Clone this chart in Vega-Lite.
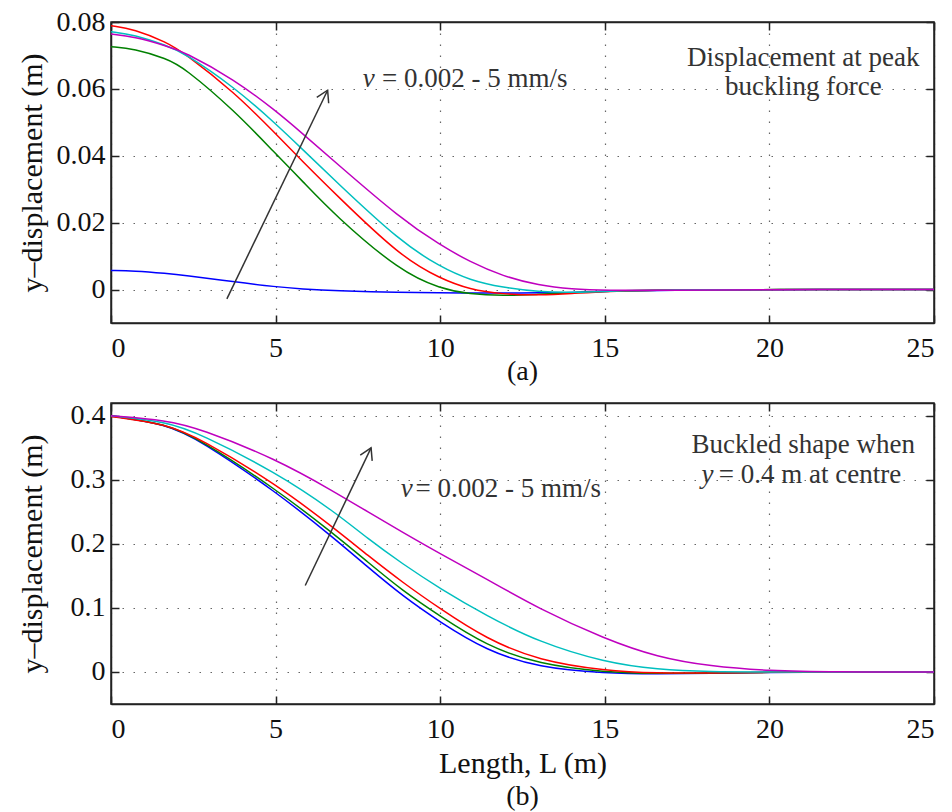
{
  "$schema": "https://vega.github.io/schema/vega-lite/v6.json",
  "background": "white",
  "padding": {"left": 16, "top": 7, "right": 5, "bottom": 0},
  "spacing": 80,
  "bounds": "flush",
  "config": {
    "font": "Liberation Serif",
    "view": {"stroke": "#222", "strokeWidth": 1.5},
    "text": {"font": "Liberation Serif"},
    "axis": {
      "labelFont": "Liberation Serif", "labelFontSize": 28, "labelColor": "#111",
      "titleFont": "Liberation Serif", "titleFontSize": 30, "titleFontWeight": "normal", "titleColor": "#111",
      "domainColor": "#222", "domainWidth": 1.5, "tickColor": "#222", "tickWidth": 1.5, "tickSize": -8,
      "gridColor": "#666", "gridDash": [1.5, 9.5], "gridWidth": 1.2
    },
    "axisX": {"labelPadding": 19},
    "axisY": {"labelPadding": 14}
  },
  "datasets": {
    "top": [
      {"s": "1", "x": 0, "y": 0.0057}, {"s": "1", "x": 0.7, "y": 0.0056}, {"s": "1", "x": 1.7, "y": 0.0048}, {"s": "1", "x": 2.2, "y": 0.0043}, {"s": "1", "x": 3.75, "y": 0.0023}, {"s": "1", "x": 5, "y": 0.0008}, {"s": "1", "x": 5.8, "y": 0.0002}, {"s": "1", "x": 6.8, "y": -0.0004}, {"s": "1", "x": 8.8, "y": -0.0009}, {"s": "1", "x": 10, "y": -0.001}, {"s": "1", "x": 10.9, "y": -0.001}, {"s": "1", "x": 11.9, "y": -0.001}, {"s": "1", "x": 13, "y": -0.001}, {"s": "1", "x": 14, "y": -0.0009}, {"s": "1", "x": 15, "y": -0.0005}, {"s": "1", "x": 17, "y": -0.0002}, {"s": "1", "x": 20, "y": 0}, {"s": "1", "x": 25, "y": 0},
      {"s": "2", "x": 0, "y": 0.0726}, {"s": "2", "x": 0.7, "y": 0.072}, {"s": "2", "x": 1.7, "y": 0.069}, {"s": "2", "x": 2.2, "y": 0.0665}, {"s": "2", "x": 3.75, "y": 0.0535}, {"s": "2", "x": 5, "y": 0.0406}, {"s": "2", "x": 5.8, "y": 0.0326}, {"s": "2", "x": 6.8, "y": 0.0222}, {"s": "2", "x": 8.8, "y": 0.0053}, {"s": "2", "x": 10, "y": 0.0003}, {"s": "2", "x": 10.9, "y": -0.0014}, {"s": "2", "x": 11.9, "y": -0.0019}, {"s": "2", "x": 13, "y": -0.0014}, {"s": "2", "x": 14, "y": -0.001}, {"s": "2", "x": 15, "y": -0.0005}, {"s": "2", "x": 17, "y": -0.0001}, {"s": "2", "x": 20, "y": 0}, {"s": "2", "x": 25, "y": 0},
      {"s": "3", "x": 0, "y": 0.0789}, {"s": "3", "x": 0.7, "y": 0.0779}, {"s": "3", "x": 1.7, "y": 0.0739}, {"s": "3", "x": 2.2, "y": 0.0709}, {"s": "3", "x": 3.75, "y": 0.059}, {"s": "3", "x": 5, "y": 0.0466}, {"s": "3", "x": 5.8, "y": 0.0385}, {"s": "3", "x": 6.8, "y": 0.0287}, {"s": "3", "x": 8.8, "y": 0.0098}, {"s": "3", "x": 10, "y": 0.0033}, {"s": "3", "x": 10.9, "y": 0}, {"s": "3", "x": 11.9, "y": -0.0014}, {"s": "3", "x": 13, "y": -0.0017}, {"s": "3", "x": 14, "y": -0.0012}, {"s": "3", "x": 15, "y": -0.0005}, {"s": "3", "x": 17, "y": -0.0001}, {"s": "3", "x": 20, "y": 0}, {"s": "3", "x": 25, "y": 0},
      {"s": "4", "x": 0, "y": 0.0771}, {"s": "4", "x": 0.7, "y": 0.0762}, {"s": "4", "x": 1.7, "y": 0.0729}, {"s": "4", "x": 2.2, "y": 0.0709}, {"s": "4", "x": 3.75, "y": 0.0605}, {"s": "4", "x": 5, "y": 0.0496}, {"s": "4", "x": 5.8, "y": 0.0421}, {"s": "4", "x": 6.8, "y": 0.0326}, {"s": "4", "x": 8.8, "y": 0.0142}, {"s": "4", "x": 10, "y": 0.0068}, {"s": "4", "x": 10.9, "y": 0.0028}, {"s": "4", "x": 11.9, "y": 0.0006}, {"s": "4", "x": 13, "y": -0.0007}, {"s": "4", "x": 14, "y": -0.0009}, {"s": "4", "x": 15, "y": -0.0005}, {"s": "4", "x": 17, "y": -0.0001}, {"s": "4", "x": 20, "y": 0}, {"s": "4", "x": 25, "y": 0},
      {"s": "5", "x": 0, "y": 0.0764}, {"s": "5", "x": 0.7, "y": 0.0756}, {"s": "5", "x": 1.7, "y": 0.0728}, {"s": "5", "x": 2.2, "y": 0.0712}, {"s": "5", "x": 3.75, "y": 0.0628}, {"s": "5", "x": 5, "y": 0.0535}, {"s": "5", "x": 5.8, "y": 0.0468}, {"s": "5", "x": 6.8, "y": 0.0382}, {"s": "5", "x": 8.8, "y": 0.0212}, {"s": "5", "x": 10, "y": 0.0133}, {"s": "5", "x": 10.9, "y": 0.0083}, {"s": "5", "x": 11.9, "y": 0.004}, {"s": "5", "x": 13, "y": 0.0012}, {"s": "5", "x": 14, "y": 0.0001}, {"s": "5", "x": 15, "y": -0.0003}, {"s": "5", "x": 17, "y": -0.0002}, {"s": "5", "x": 20, "y": 0}, {"s": "5", "x": 25, "y": 0}
    ],
    "bot": [
      {"s": "1", "x": 0, "y": 0.4}, {"s": "1", "x": 1.7, "y": 0.387}, {"s": "1", "x": 2.7, "y": 0.362}, {"s": "1", "x": 5, "y": 0.282}, {"s": "1", "x": 6.8, "y": 0.208}, {"s": "1", "x": 7.8, "y": 0.1638}, {"s": "1", "x": 8.85, "y": 0.119}, {"s": "1", "x": 10, "y": 0.0777}, {"s": "1", "x": 11.4, "y": 0.0334}, {"s": "1", "x": 13, "y": 0.0068}, {"s": "1", "x": 15, "y": -0.002}, {"s": "1", "x": 16.6, "y": -0.003}, {"s": "1", "x": 18.2, "y": -0.002}, {"s": "1", "x": 20, "y": -0.0005}, {"s": "1", "x": 22, "y": 0}, {"s": "1", "x": 25, "y": 0},
      {"s": "2", "x": 0, "y": 0.4}, {"s": "2", "x": 1.7, "y": 0.387}, {"s": "2", "x": 2.7, "y": 0.363}, {"s": "2", "x": 5, "y": 0.286}, {"s": "2", "x": 6.8, "y": 0.2143}, {"s": "2", "x": 7.8, "y": 0.1716}, {"s": "2", "x": 8.85, "y": 0.127}, {"s": "2", "x": 10, "y": 0.087}, {"s": "2", "x": 11.4, "y": 0.041}, {"s": "2", "x": 13, "y": 0.012}, {"s": "2", "x": 15, "y": -0.0005}, {"s": "2", "x": 16.6, "y": -0.0025}, {"s": "2", "x": 18.2, "y": -0.0015}, {"s": "2", "x": 20, "y": -0.0005}, {"s": "2", "x": 22, "y": 0}, {"s": "2", "x": 25, "y": 0},
      {"s": "3", "x": 0, "y": 0.399}, {"s": "3", "x": 1.7, "y": 0.387}, {"s": "3", "x": 2.7, "y": 0.3645}, {"s": "3", "x": 5, "y": 0.294}, {"s": "3", "x": 6.8, "y": 0.2237}, {"s": "3", "x": 7.8, "y": 0.182}, {"s": "3", "x": 8.85, "y": 0.14}, {"s": "3", "x": 10, "y": 0.0986}, {"s": "3", "x": 11.4, "y": 0.0516}, {"s": "3", "x": 13, "y": 0.0177}, {"s": "3", "x": 15, "y": 0.002}, {"s": "3", "x": 16.6, "y": -0.002}, {"s": "3", "x": 18.2, "y": -0.0015}, {"s": "3", "x": 20, "y": -0.0005}, {"s": "3", "x": 22, "y": 0}, {"s": "3", "x": 25, "y": 0},
      {"s": "4", "x": 0, "y": 0.4}, {"s": "4", "x": 1.7, "y": 0.3906}, {"s": "4", "x": 2.7, "y": 0.372}, {"s": "4", "x": 5, "y": 0.312}, {"s": "4", "x": 6.8, "y": 0.25}, {"s": "4", "x": 7.8, "y": 0.208}, {"s": "4", "x": 8.85, "y": 0.169}, {"s": "4", "x": 10, "y": 0.13}, {"s": "4", "x": 11.4, "y": 0.088}, {"s": "4", "x": 13, "y": 0.0464}, {"s": "4", "x": 15, "y": 0.015}, {"s": "4", "x": 16.6, "y": 0.0037}, {"s": "4", "x": 18.2, "y": 0}, {"s": "4", "x": 20, "y": 0}, {"s": "4", "x": 22, "y": 0}, {"s": "4", "x": 25, "y": 0},
      {"s": "5", "x": 0, "y": 0.4}, {"s": "5", "x": 1.7, "y": 0.393}, {"s": "5", "x": 2.7, "y": 0.38}, {"s": "5", "x": 5, "y": 0.333}, {"s": "5", "x": 6.8, "y": 0.281}, {"s": "5", "x": 7.8, "y": 0.25}, {"s": "5", "x": 8.85, "y": 0.2185}, {"s": "5", "x": 10, "y": 0.1846}, {"s": "5", "x": 11.4, "y": 0.1455}, {"s": "5", "x": 13, "y": 0.0986}, {"s": "5", "x": 15, "y": 0.0516}, {"s": "5", "x": 16.6, "y": 0.023}, {"s": "5", "x": 18.2, "y": 0.0089}, {"s": "5", "x": 20, "y": 0.0016}, {"s": "5", "x": 22, "y": 0}, {"s": "5", "x": 25, "y": 0}
    ]
  },
  "vconcat": [
    {
      "width": 823,
      "height": 301,
      "title": {"text": "(a)", "orient": "bottom", "anchor": "middle", "offset": -4, "fontSize": 28, "font": "Liberation Serif", "fontWeight": "normal", "color": "#111"},
      "layer": [
        {
          "data": {"name": "top"},
          "mark": {"type": "line", "strokeWidth": 1.5, "interpolate": "basis", "clip": true},
          "encoding": {
            "x": {"field": "x", "type": "quantitative", "scale": {"domain": [0, 25], "nice": false}, "axis": {"values": [0, 5, 10, 15, 20, 25], "title": null, "grid": true, "orient": "bottom"}},
            "y": {"field": "y", "type": "quantitative", "scale": {"domain": [-0.01, 0.08], "nice": false, "zero": false}, "axis": {"values": [0, 0.02, 0.04, 0.06, 0.08], "format": "~g", "title": "y–displacement (m)", "grid": true, "titleX": -79, "titleBaseline": "middle"}},
            "color": {"field": "s", "type": "nominal", "scale": {"domain": ["1", "2", "3", "4", "5"], "range": ["#0000FF", "#008000", "#FF0000", "#00BFBF", "#BF00BF"]}, "legend": null}
          }
        },
        {
          "data": {"values": [{"x": 0, "y": 0}]},
          "mark": {"type": "point", "opacity": 0},
          "encoding": {
            "x": {"field": "x", "type": "quantitative", "axis": {"orient": "top", "values": [0, 5, 10, 15, 20, 25], "labels": false, "grid": false, "title": null}},
            "y": {"field": "y", "type": "quantitative", "axis": {"orient": "right", "values": [0, 0.02, 0.04, 0.06, 0.08], "labels": false, "grid": false, "title": null}}
          }
        },
        {
          "data": {"values": [{"x": 3.52, "y": -0.0028, "x2": 6.58, "y2": 0.0596}]},
          "mark": {"type": "rule", "color": "#333", "strokeWidth": 1.5},
          "encoding": {
            "x": {"field": "x", "type": "quantitative", "axis": null},
            "y": {"field": "y", "type": "quantitative", "axis": null},
            "x2": {"field": "x2"},
            "y2": {"field": "y2"}
          }
        },
        {
          "data": {"values": [{"x": 6.58, "y": 0.0596}]},
          "mark": {"type": "point", "shape": "M -0.5 0.85 L 0 0 L 0.5 0.85", "filled": false, "stroke": "#333", "strokeWidth": 1.5, "size": 700, "angle": 25.8, "opacity": 1},
          "encoding": {
            "x": {"field": "x", "type": "quantitative", "axis": null},
            "y": {"field": "y", "type": "quantitative", "axis": null}
          }
        },
        {
          "data": {"values": [{"x": 7.65, "y": 0.063, "t": "v"}]},
          "mark": {"type": "text", "align": "left", "baseline": "middle", "fontStyle": "italic", "fontSize": 27, "color": "#333"},
          "encoding": {
            "x": {"field": "x", "type": "quantitative", "axis": null},
            "y": {"field": "y", "type": "quantitative", "axis": null},
            "text": {"field": "t"}
          }
        },
        {
          "data": {"values": [{"x": 8.23, "y": 0.063, "t": "= 0.002 - 5 mm/s"}]},
          "mark": {"type": "text", "align": "left", "baseline": "middle", "fontSize": 27, "color": "#333"},
          "encoding": {
            "x": {"field": "x", "type": "quantitative", "axis": null},
            "y": {"field": "y", "type": "quantitative", "axis": null},
            "text": {"field": "t"}
          }
        },
        {
          "data": {"values": [{"x": 21.03, "y": 0.0693, "t": "Displacement at peak"}, {"x": 21.03, "y": 0.0606, "t": "buckling force"}]},
          "mark": {"type": "text", "align": "center", "baseline": "middle", "fontSize": 27, "color": "#333"},
          "encoding": {
            "x": {"field": "x", "type": "quantitative", "axis": null},
            "y": {"field": "y", "type": "quantitative", "axis": null},
            "text": {"field": "t"}
          }
        }
      ],
      "resolve": {"axis": {"x": "independent", "y": "independent"}}
    },
    {
      "width": 823,
      "height": 301,
      "title": {"text": "(b)", "orient": "bottom", "anchor": "middle", "offset": 5, "fontSize": 28, "font": "Liberation Serif", "fontWeight": "normal", "color": "#111"},
      "layer": [
        {
          "data": {"name": "bot"},
          "mark": {"type": "line", "strokeWidth": 1.5, "interpolate": "basis", "clip": true},
          "encoding": {
            "x": {"field": "x", "type": "quantitative", "scale": {"domain": [0, 25], "nice": false}, "axis": {"values": [0, 5, 10, 15, 20, 25], "title": "Length, L (m)", "titlePadding": 5, "grid": true, "orient": "bottom"}},
            "y": {"field": "y", "type": "quantitative", "scale": {"domain": [-0.05, 0.42], "nice": false, "zero": false}, "axis": {"values": [0, 0.1, 0.2, 0.3, 0.4], "format": "~g", "title": "y–displacement (m)", "grid": true, "titleX": -79, "titleBaseline": "middle"}},
            "color": {"field": "s", "type": "nominal", "scale": {"domain": ["1", "2", "3", "4", "5"], "range": ["#0000FF", "#008000", "#FF0000", "#00BFBF", "#BF00BF"]}, "legend": null}
          }
        },
        {
          "data": {"values": [{"x": 0, "y": 0}]},
          "mark": {"type": "point", "opacity": 0},
          "encoding": {
            "x": {"field": "x", "type": "quantitative", "axis": {"orient": "top", "values": [0, 5, 10, 15, 20, 25], "labels": false, "grid": false, "title": null}},
            "y": {"field": "y", "type": "quantitative", "axis": {"orient": "right", "values": [0, 0.1, 0.2, 0.3, 0.4], "labels": false, "grid": false, "title": null}}
          }
        },
        {
          "data": {"values": [{"x": 5.9, "y": 0.135, "x2": 7.9, "y2": 0.35}]},
          "mark": {"type": "rule", "color": "#333", "strokeWidth": 1.5},
          "encoding": {
            "x": {"field": "x", "type": "quantitative", "axis": null},
            "y": {"field": "y", "type": "quantitative", "axis": null},
            "x2": {"field": "x2"},
            "y2": {"field": "y2"}
          }
        },
        {
          "data": {"values": [{"x": 7.9, "y": 0.35}]},
          "mark": {"type": "point", "shape": "M -0.5 0.85 L 0 0 L 0.5 0.85", "filled": false, "stroke": "#333", "strokeWidth": 1.5, "size": 700, "angle": 25.5, "opacity": 1},
          "encoding": {
            "x": {"field": "x", "type": "quantitative", "axis": null},
            "y": {"field": "y", "type": "quantitative", "axis": null}
          }
        },
        {
          "data": {"values": [{"x": 8.8, "y": 0.286, "t": "v"}, {"x": 17.94, "y": 0.307, "t": "y"}]},
          "mark": {"type": "text", "align": "left", "baseline": "middle", "fontStyle": "italic", "fontSize": 27, "color": "#333"},
          "encoding": {
            "x": {"field": "x", "type": "quantitative", "axis": null},
            "y": {"field": "y", "type": "quantitative", "axis": null},
            "text": {"field": "t"}
          }
        },
        {
          "data": {"values": [{"x": 9.25, "y": 0.286, "t": "= 0.002 - 5 mm/s"}, {"x": 18.46, "y": 0.307, "t": "= 0.4 m at centre"}]},
          "mark": {"type": "text", "align": "left", "baseline": "middle", "fontSize": 27, "color": "#333"},
          "encoding": {
            "x": {"field": "x", "type": "quantitative", "axis": null},
            "y": {"field": "y", "type": "quantitative", "axis": null},
            "text": {"field": "t"}
          }
        },
        {
          "data": {"values": [{"x": 21.03, "y": 0.354, "t": "Buckled shape when"}]},
          "mark": {"type": "text", "align": "center", "baseline": "middle", "fontSize": 27, "color": "#333"},
          "encoding": {
            "x": {"field": "x", "type": "quantitative", "axis": null},
            "y": {"field": "y", "type": "quantitative", "axis": null},
            "text": {"field": "t"}
          }
        }
      ],
      "resolve": {"axis": {"x": "independent", "y": "independent"}}
    }
  ]
}
